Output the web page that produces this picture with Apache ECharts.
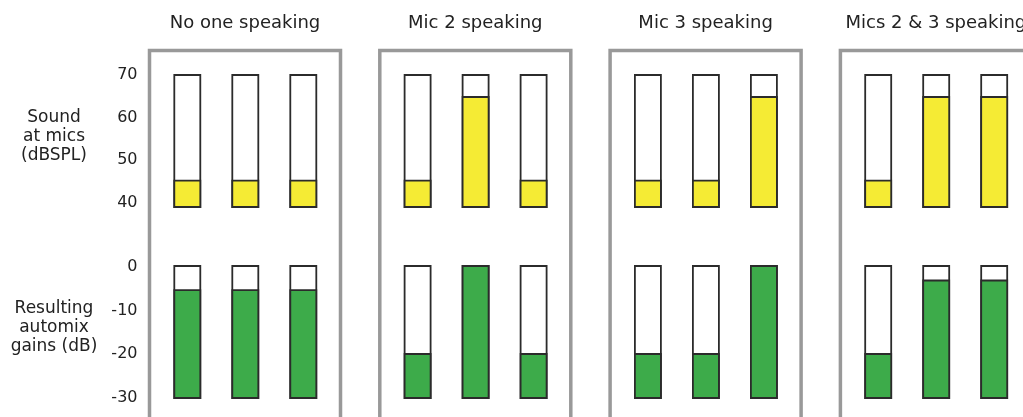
<!DOCTYPE html>
<html>
<head>
<meta charset="utf-8">
<script src="https://cdn.jsdelivr.net/npm/echarts@6/dist/echarts.min.js"></script>
<style>
html,body{margin:0;padding:0;background:#fff;}
#chart{width:1023px;height:417px;}
</style>
</head>
<body>
<div id="chart"></div>
<script>
// ---- data ----
const scenarios = ['No one speaking', 'Mic 2 speaking', 'Mic 3 speaking', 'Mics 2 & 3 speaking'];
const mics = ['Mic 1', 'Mic 2', 'Mic 3'];
const soundRange = [40, 70];          // dBSPL axis
const gainRange = [-30, 0];           // dB axis
const soundTicks = [40, 50, 60, 70];
const gainTicks = [-30, -20, -10, 0];
// sound at mics (dBSPL), one array per scenario
const soundNoOne = [46, 46, 46];
const soundMic2 = [46, 65, 46];
const soundMic3 = [46, 46, 65];
const soundMics23 = [46, 65, 65];
// resulting automix gains (dB), one array per scenario
const gainNoOne = [-5.5, -5.5, -5.5];
const gainMic2 = [-20, 0, -20];
const gainMic3 = [-20, -20, 0];
const gainMics23 = [-20, -3.3, -3.3];
const soundLabel = 'Sound\nat mics\n(dBSPL)';
const gainLabel = 'Resulting\nautomix\ngains (dB)';

const soundSets = [soundNoOne, soundMic2, soundMic3, soundMics23];
const gainSets = [gainNoOne, gainMic2, gainMic3, gainMics23];

// ---- layout / style ----
const FONT = '"DejaVu Sans", "Liberation Sans", sans-serif';
const TXT = '#222';
const YELLOW = '#f5eb34';
const GREEN = '#3dab4a';
const OUTLINE = '#2b2b2b';
const panelLeft0 = 149.5, panelStep = 230.3, panelW = 191;
const barW = 26;

const grids = [], xAxes = [], yAxes = [], series = [], graphics = [];

function addGrid(g, xa, ya) {
  g.outerBoundsMode = 'none';
  g.containLabel = false;
  grids.push(g);
  const gi = grids.length - 1;
  xa.gridIndex = gi; ya.gridIndex = gi;
  xAxes.push(xa); yAxes.push(ya);
  return gi;
}

const hiddenVal = () => ({ type: 'value', show: false, min: 0, max: 1, splitLine: { show: false } });

// tick label axes
function labelAxis(top, height, ticks) {
  return addGrid(
    { left: 137.5, width: 10, top: top, height: height, show: false },
    hiddenVal(),
    {
      type: 'value', min: ticks[0], max: ticks[ticks.length - 1], interval: ticks[1] - ticks[0],
      position: 'left',
      axisLine: { show: false }, axisTick: { show: false }, splitLine: { show: false },
      axisLabel: { margin: 0, color: TXT, fontFamily: FONT, fontSize: 16 }
    }
  );
}
labelAxis(75, 128, soundTicks);
labelAxis(267, 130.5, gainTicks);

function makeRender(range, color) {
  return function (params, api) {
    const x = api.value(0), v = api.value(1);
    const top = api.coord([x, range[1]]);
    const bot = api.coord([x, range[0]]);
    const val = api.coord([x, v]);
    const left = top[0] - barW / 2;
    return {
      type: 'group',
      children: [
        { type: 'rect', shape: { x: left, y: top[1], width: barW, height: bot[1] - top[1] },
          style: { fill: '#fff', stroke: OUTLINE, lineWidth: 1.8 } },
        { type: 'rect', shape: { x: left, y: val[1], width: barW, height: bot[1] - val[1] },
          style: { fill: color, stroke: OUTLINE, lineWidth: 1.8 } }
      ]
    };
  };
}

scenarios.forEach((name, p) => {
  const pl = panelLeft0 + panelStep * p;
  // panel frame
  addGrid({ left: pl, top: 50.5, width: panelW, height: 600, show: true,
            borderColor: '#999', borderWidth: 3.5, backgroundColor: 'transparent' },
          hiddenVal(), hiddenVal());
  // sound row
  const gs = addGrid({ left: pl + 8.8, top: 75, width: 174, height: 132 },
    { type: 'category', data: mics, show: false },
    { type: 'value', min: soundRange[0], max: soundRange[1], show: false, splitLine: { show: false } });
  series.push({
    type: 'custom', name: name + ' sound', xAxisIndex: gs, yAxisIndex: gs, clip: false,
    renderItem: makeRender(soundRange, YELLOW),
    data: soundSets[p].map((v, i) => [i, v])
  });
  // gain row
  const gg = addGrid({ left: pl + 8.8, top: 266, width: 174, height: 132 },
    { type: 'category', data: mics, show: false },
    { type: 'value', min: gainRange[0], max: gainRange[1], show: false, splitLine: { show: false } });
  series.push({
    type: 'custom', name: name + ' gain', xAxisIndex: gg, yAxisIndex: gg, clip: false,
    renderItem: makeRender(gainRange, GREEN),
    data: gainSets[p].map((v, i) => [i, v])
  });
  // panel title
  graphics.push({
    type: 'text', x: pl + panelW / 2, y: 23,
    style: { text: name, font: '18px ' + FONT, fill: TXT,
             textAlign: 'center', textVerticalAlign: 'middle', align: 'center', verticalAlign: 'middle' }
  });
});

[[soundLabel, 137], [gainLabel, 328]].forEach(([t, y]) => {
  graphics.push({
    type: 'text', x: 54, y: y,
    style: { text: t, font: '17px ' + FONT, fill: TXT, lineHeight: 19,
             textAlign: 'center', textVerticalAlign: 'middle', align: 'center', verticalAlign: 'middle' }
  });
});

const chart = echarts.init(document.getElementById('chart'), null, { renderer: 'canvas' });
chart.setOption({
  animation: false,
  backgroundColor: '#fff',
  grid: grids,
  xAxis: xAxes,
  yAxis: yAxes,
  series: series,
  graphic: { elements: graphics }
});
</script>
</body>
</html>
